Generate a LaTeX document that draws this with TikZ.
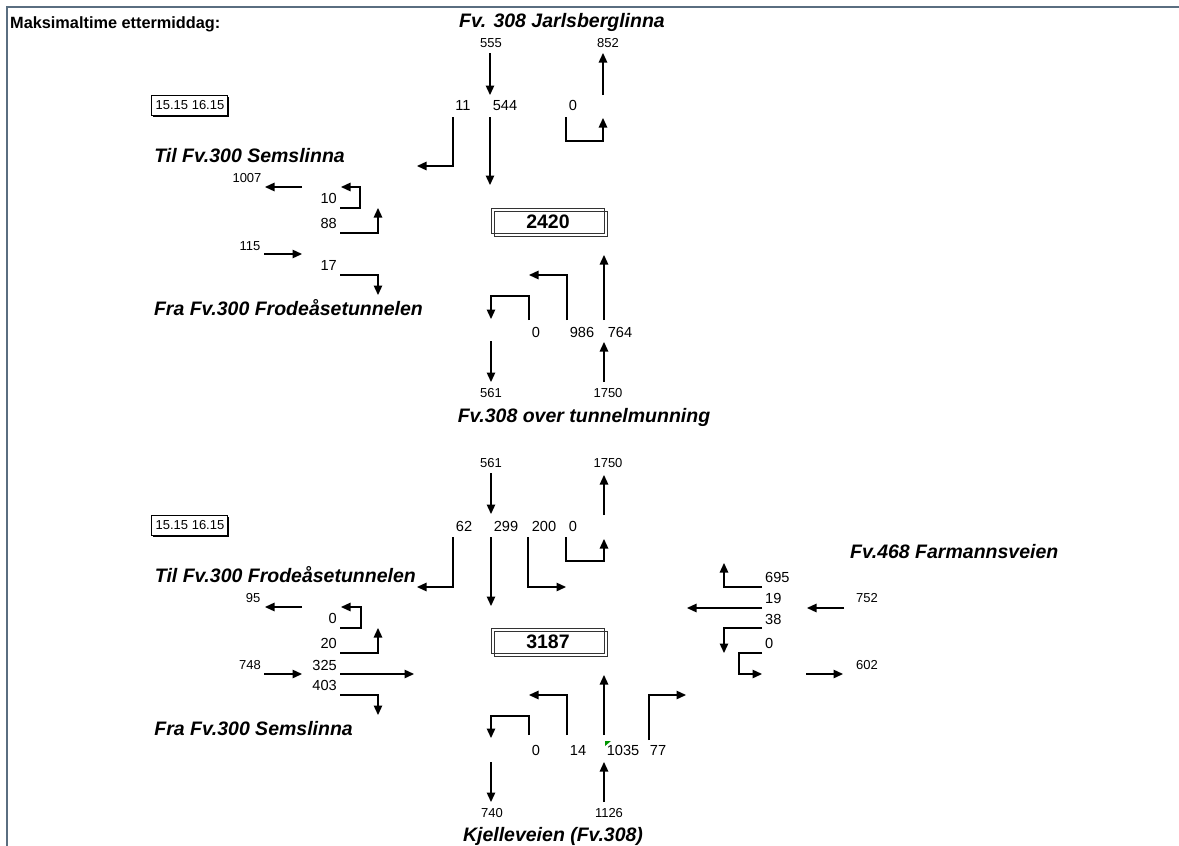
\documentclass[tikz,border=0pt]{standalone}
\usepackage{fontspec}
\setmainfont{Liberation Sans}
\usetikzlibrary{arrows.meta}
\definecolor{framecol}{RGB}{90,110,128}
\definecolor{markgreen}{RGB}{0,150,0}
\begin{document}
\begin{tikzpicture}[x=1pt,y=-1pt,
  arr/.style={-{Triangle[length=9.5pt,width=8.5pt]}, line width=1.3pt},
  big/.style={inner sep=0pt, text height=10.5pt, text depth=0pt, font=\fontsize{14.6}{16}\selectfont},
  sml/.style={inner sep=0pt, text height=9.3pt, text depth=0pt, font=\fontsize{13}{14}\selectfont},
  ttl/.style={inner sep=0pt, font=\fontsize{19.5}{21}\selectfont\bfseries\itshape},
  tot/.style={inner sep=0pt, text height=14pt, text depth=0pt, font=\fontsize{19.5}{21}\selectfont\bfseries},
  timebox/.style={inner sep=0pt, text height=9.3pt, text depth=0pt, font=\fontsize{13}{14}\selectfont}
]
\useasboundingbox (0,0) rectangle (1179,846);
% frame
\draw[line width=2pt, framecol] (7,846) -- (7,7) -- (1179,7);
\node[inner sep=0pt, font=\fontsize{16.3}{18}\selectfont\bfseries, anchor=base west] (hdr) at (10,28) {Maksimaltime ettermiddag:};

% ================= TOP JUNCTION =================
\node[ttl, anchor=base] (tN) at (562,27) {Fv. 308 Jarlsberglinna};
\node[sml] (a555) at (491,43) {555};
\node[sml] (a852) at (608,43) {852};
\draw[arr] (490,53) -- (490,95);
\draw[arr] (603,95) -- (603,53);
\node[big] (a11) at (463,105) {11};
\node[big] (a544) at (505,105) {544};
\node[big] (a0n) at (573,105) {0};
\draw[arr] (453,117) -- (453,166) -- (417,166);
\draw[arr] (490,117) -- (490,185);
\draw[arr] (566,117) -- (566,141) -- (603,141) -- (603,118);

% time box
\node[timebox] (tb1) at (190,105) {15.15 16.15};
\draw[line width=0.8pt] (151,95) rectangle (227,115);
\draw[line width=2.2pt] (153,116.2) -- (228.2,116.2) -- (228.2,97);

% west arm
\node[ttl, anchor=base east] (tW1) at (345,162) {Til Fv.300 Semslinna};
\node[sml] (a1007) at (247,178) {1007};
\draw[arr] (302,187) -- (265,187);
\node[big, anchor=east] (a10) at (337,198) {10};
\draw[arr] (340,208) -- (360,208) -- (360,187) -- (341,187);
\node[big, anchor=east] (a88) at (337,223) {88};
\draw[arr] (340,233) -- (378,233) -- (378,208);
\node[sml] (a115) at (250,246) {115};
\draw[arr] (264,254) -- (302,254);
\node[big, anchor=east] (a17) at (337,265) {17};
\draw[arr] (340,275) -- (378,275) -- (378,295);
\node[ttl, anchor=base east] (tW2) at (423,315) {Fra Fv.300 Frodeåsetunnelen};

% total
\draw[line width=0.9pt, black!80] (491,208) rectangle (604,233);
\draw[line width=0.9pt, black!80] (494,211) rectangle (607,236);
\node[tot] (tot1) at (548,221) {2420};

% south arm
\draw[arr] (604,320) -- (604,255);
\draw[arr] (567,320) -- (567,275) -- (529,275);
\draw[arr] (529,320) -- (529,296) -- (491,296) -- (491,319);
\node[big] (a0s) at (536,332) {0};
\node[big] (a986) at (582,332) {986};
\node[big] (a764) at (620,332) {764};
\draw[arr] (491,341) -- (491,382);
\draw[arr] (604,382) -- (604,342);
\node[sml] (a561) at (491,393) {561};
\node[sml] (a1750) at (608,393) {1750};
\node[ttl, anchor=base] (tS) at (584,422) {Fv.308 over tunnelmunning};

% ================= BOTTOM JUNCTION =================
\node[sml] (b561) at (491,463) {561};
\node[sml] (b1750) at (608,463) {1750};
\draw[arr] (491,473) -- (491,514);
\draw[arr] (604,515) -- (604,475);
\node[big] (b62) at (464,526) {62};
\node[big] (b299) at (506,526) {299};
\node[big] (b200) at (544,526) {200};
\node[big] (b0n) at (573,526) {0};
\draw[arr] (453,537) -- (453,587) -- (417,587);
\draw[arr] (491,537) -- (491,606);
\draw[arr] (528,537) -- (528,587) -- (566,587);
\draw[arr] (566,537) -- (566,561) -- (604,561) -- (604,539);

% time box
\node[timebox] (tb2) at (190,525) {15.15 16.15};
\draw[line width=0.8pt] (151,515) rectangle (227,535);
\draw[line width=2.2pt] (153,536.2) -- (228.2,536.2) -- (228.2,517);

% west arm
\node[ttl, anchor=base east] (uW1) at (416,582) {Til Fv.300 Frodeåsetunnelen};
\node[sml] (b95) at (253,598) {95};
\draw[arr] (302,607) -- (265,607);
\node[big, anchor=east] (b0w) at (337,618) {0};
\draw[arr] (340,628) -- (361,628) -- (361,607) -- (341,607);
\node[big, anchor=east] (b20) at (337,643) {20};
\draw[arr] (340,653) -- (378,653) -- (378,628);
\node[sml] (b748) at (250,665) {748};
\node[big, anchor=east] (b325) at (337,665) {325};
\draw[arr] (264,674) -- (302,674);
\draw[arr] (340,674) -- (414,674);
\node[big, anchor=east] (b403) at (337,685) {403};
\draw[arr] (340,695) -- (378,695) -- (378,715);
\node[ttl, anchor=base east] (uW2) at (353,735) {Fra Fv.300 Semslinna};

% total
\draw[line width=0.9pt, black!80] (491,628) rectangle (604,653);
\draw[line width=0.9pt, black!80] (494,631) rectangle (607,656);
\node[tot] (tot2) at (548,641) {3187};

% east arm
\node[ttl, anchor=base west] (uE) at (850,558) {Fv.468 Farmannsveien};
\node[big, anchor=west] (b695) at (765,577) {695};
\node[big, anchor=west] (b19) at (765,598) {19};
\node[big, anchor=west] (b38) at (765,619) {38};
\node[big, anchor=west] (b0e) at (765,643) {0};
\draw[arr] (762,587) -- (724,587) -- (724,563);
\draw[arr] (762,608) -- (687,608);
\draw[arr] (762,628) -- (724,628) -- (724,653);
\draw[arr] (762,653) -- (739,653) -- (739,674) -- (762,674);
\node[sml] (b752) at (867,598) {752};
\draw[arr] (844,608) -- (807,608);
\node[sml] (b602) at (867,665) {602};
\draw[arr] (806,674) -- (843,674);

% south arm
\draw[arr] (604,735) -- (604,675);
\draw[arr] (567,735) -- (567,695) -- (529,695);
\draw[arr] (529,735) -- (529,716) -- (491,716) -- (491,738);
\draw[arr] (649,740) -- (649,695) -- (686,695);
\fill[markgreen] (605,741) -- (611,741) -- (605,746) -- cycle;
\node[big] (b0s) at (536,750) {0};
\node[big] (b14) at (578,750) {14};
\node[big] (b1035) at (623,750) {1035};
\node[big] (b77) at (658,750) {77};
\draw[arr] (491,762) -- (491,802);
\draw[arr] (604,802) -- (604,762);
\node[sml] (b740) at (492,813) {740};
\node[sml] (b1126) at (609,813) {1126};
\node[ttl, anchor=base] (uS) at (553,841) {Kjelleveien (Fv.308)};
\end{tikzpicture}
\end{document}
